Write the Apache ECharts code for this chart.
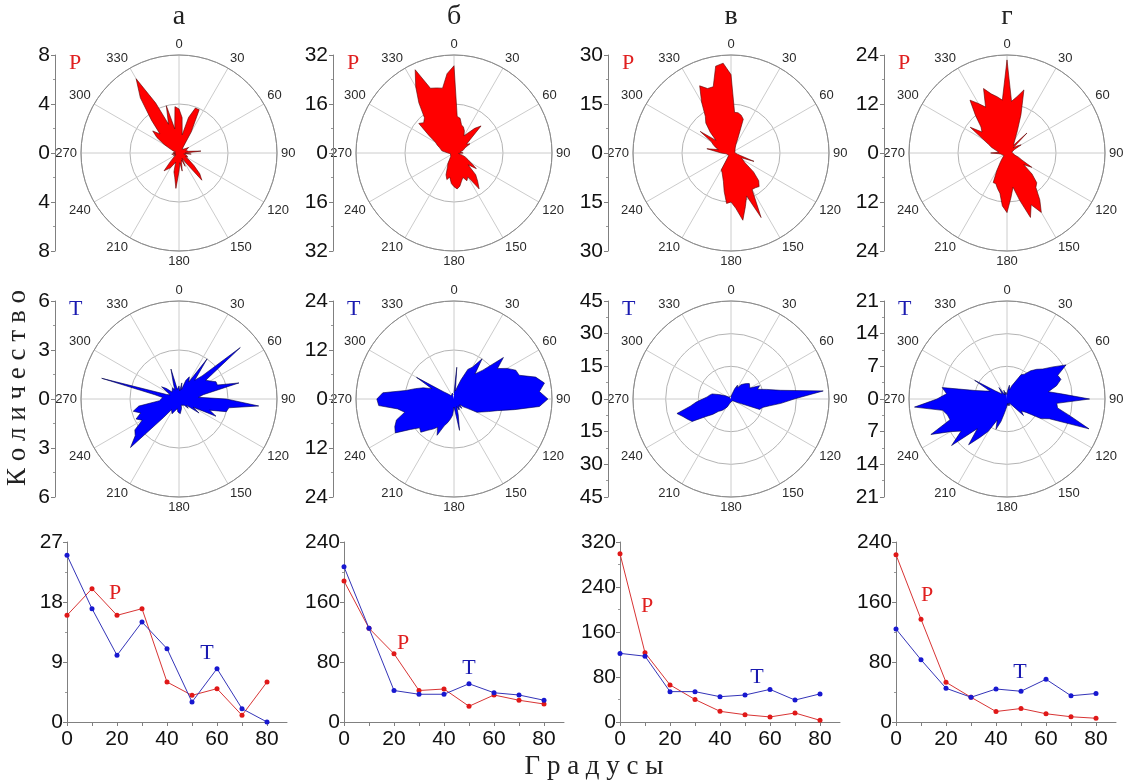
<!DOCTYPE html>
<html><head><meta charset="utf-8">
<script src="https://cdn.jsdelivr.net/npm/echarts@6/dist/echarts.min.js"></script>
<style>html,body{margin:0;padding:0;background:#fff}#c{width:1123px;height:782px}</style>
</head><body><div id="c"></div>
<script>
// ---------------- DATA ----------------
const colTitles = ['а', 'б', 'в', 'г'];
const angles = [0,5,10,15,20,25,30,35,40,45,50,55,60,65,70,75,80,85,
  90,95,100,105,110,115,120,125,130,135,140,145,150,155,160,165,170,175,
  180,185,190,195,200,205,210,215,220,225,230,235,240,245,250,255,260,265,
  270,275,280,285,290,295,300,305,310,315,320,325,330,335,340,345,350,355];

// Р (top row) rose values per column
const roseP_a = [3.6,2.9,1.5,3.0,3.9,3.9,2.0,0.6,0.4,0.5,0.4,0.6,0.9,1.0,0.6,0.5,0.8,1.8,
  0.5,1.0,0.4,0.6,0.5,0.8,0.6,1.0,1.6,2.4,2.9,1.0,0.5,1.2,0.6,0.8,1.5,0.8,
  1.5,2.9,2.0,1.6,0.8,1.0,1.4,1.5,1.9,1.0,0.6,0.4,0.3,0.5,0.3,0.4,0.6,0.3,
  0.5,0.4,0.6,0.3,0.5,0.8,1.4,2.2,2.8,2.2,3.5,5.5,7.0,4.5,2.5,4.0,2.0,3.8];
const roseP_b = [28.5,12,11.5,9.5,9,8,6.5,8,10.5,12.5,7,5,6,4,4.5,3,2,1.5,
  3,1.5,2,3,4,5,6.5,8.9,6,10,12,14.3,9,10,8.5,9.5,11,11.8,
  11,10,8,9,7.6,5,4,2.5,2,1.5,1,1,1,1,0.8,1,1.2,1.5,
  2,2.5,4,4.5,5,6,7,10,15,14,15,20,25,30,22.5,22,21.5,26];
const roseP_v = [24,12.5,12.5,12,11,5,3,2.5,2,1.5,2,1.5,1.5,2,1.5,1,1,1.2,
  1,1.5,2,3,7.5,3.5,4,5.3,9,12,13.4,13,12.9,21.8,14,17,20.9,17,
  15,15.5,12,9,7.5,6.5,6,2,1.5,1,1,1,0.8,0.8,1,1,1.5,2,
  3,3.5,7.5,4,5,6,7,11.5,6,9,12,13.7,18,22.7,21,21,27,27.6];
const roseP_g = [22.8,12.7,14,16,10,6,4,3,2.5,6.9,2,3,4,2,1.5,1.5,1.2,1,
  1,1.5,1.5,2,3,4,7,5,8,10.3,11,14,16.8,14,16.8,12,8.5,11,
  14.6,13,10,9,8,8,5,3,2,1.5,1,1,1,1,1,1.2,1.5,2,
  4,2,2.5,3,4,5,5,11,8,9,12,15.8,14,12.4,16.8,15,14,13];

// Т (middle row) rose values per column
const roseT_a = [0.8,0.5,1.0,0.6,1.2,1.5,1.2,3.0,1.5,2.0,4.9,2.0,2.2,2.5,2.5,3.8,1.5,1.2,
  2.9,4.9,3.1,3.0,2.0,2.5,1.0,1.5,0.6,0.8,0.5,0.6,0.4,0.5,0.4,0.6,0.5,0.9,
  1.0,0.8,0.6,0.5,0.8,1.0,1.0,0.8,1.5,4.2,3.5,3.3,2.6,2.9,2.5,2.9,2.5,1.2,
  1.2,1.0,1.5,4.9,0.8,0.6,0.8,1.3,1.0,0.6,0.5,0.6,0.8,0.6,1.0,1.9,0.6,0.5];
const roseT_b = [1.5,7.8,2,3,5,8,9,12,8,10,15.8,13,15,16.7,17,20.7,22.5,21,
  23,21,15,11,9,7.5,6.5,4,3,2,3,2,2.5,3,2,4,7.8,3,
  2,4,5,6,7,9.8,8,9,10,11.5,11,13,16.6,16,15,12.5,14,18.5,
  18.9,17.5,12,9.8,8,6,10.6,3,2,1.5,1,0.8,1,0.8,1,1.5,1,1.5];
const roseT_v = [1,1.5,2,3,5,7,6,8,9,10,11,11.3,10,14.5,13,17,23,42.5,
  29,23,18,15,14,5,3,2,1.5,1.5,1,1,1,1.5,1,1,1,1.5,
  1,1,1.5,2,3,4,5,6,7,8,11,14,20.6,22,23.5,25.7,19,16,
  13,11,10,9,6,4,3,2,2,1.5,1,1,1,1,1.5,1,1.5,1];
const roseT_g = [1,2,3,2,3,4,6,6.5,7.9,9,10,12,14.6,12,12.3,11,9,12,
  17.7,10.7,11,14,18.7,10,8.4,5,4,5,2,1.5,1,1,1.5,1,1.5,1,
  1.5,2,3,5,6.9,5,8,10,12.8,9,15.5,12,14,18,13,13.2,14,19.9,
  15,13,14.1,7,5,4,8,3,2,1.5,1.5,3,1,1,2,1,1.5,1];

const roseMaxP = [8, 32, 30, 24];
const roseStepP = [4, 16, 15, 12];
const roseMaxT = [6, 24, 45, 21];
const roseStepT = [3, 12, 15, 7];

// bottom row: counts vs degrees
const lineDeg = [0, 10, 20, 30, 40, 50, 60, 70, 80];
const lineP_a = [16, 20, 16, 17, 6, 4, 5, 1, 6];
const lineT_a = [25, 17, 10, 15, 11, 3, 8, 2, 0];
const lineP_b = [188, 125, 91, 42, 44, 21, 36, 29, 24];
const lineT_b = [207, 125, 42, 37, 37, 51, 39, 36, 29];
const lineP_v = [299, 123, 66, 40, 19, 13, 9, 16, 3];
const lineT_v = [122, 117, 54, 54, 45, 48, 58, 39, 50];
const lineP_g = [223, 137, 53, 33, 14, 18, 11, 7, 5];
const lineT_g = [124, 83, 45, 33, 44, 41, 57, 35, 38];
const lineMax = [27, 240, 320, 240];
const lineStep = [9, 80, 80, 80];
const xTickLabels = [0, 20, 40, 60, 80];

// ---------------- LAYOUT ----------------
const colCx = [179, 454, 731, 1007];
const rowCy = [153, 399];
const R = 98;
const scaleAxisX = [55, 333, 608, 884];
const lineLeft = [67, 344, 620, 896];
const SANS = 'Liberation Sans';
const SERIF = 'Liberation Serif';

const chart = echarts.init(document.getElementById('c'), null, {renderer: 'canvas'});
const polar = [], angleAxis = [], radiusAxis = [], grid = [], xAxis = [], yAxis = [], series = [], graphic = [];

const roseSets = [
  {vals: [roseP_a, roseP_b, roseP_v, roseP_g], max: roseMaxP, step: roseStepP, fill: '#ff0000', edge: '#5a0000', tag: 'Р', tagColor: '#e02020'},
  {vals: [roseT_a, roseT_b, roseT_v, roseT_g], max: roseMaxT, step: roseStepT, fill: '#0000ff', edge: '#00004a', tag: 'Т', tagColor: '#1a1ab0'}
];

roseSets.forEach((set, row) => {
  for (let c = 0; c < 4; c++) {
    const pi = polar.length;
    polar.push({center: [colCx[c], rowCy[row]], radius: R});
    angleAxis.push({
      polarIndex: pi, type: 'value', min: 0, max: 360, interval: 30, startAngle: 90, clockwise: true,
      axisLine: {lineStyle: {color: '#8a8a8a', width: 1}},
      axisTick: {show: false},
      axisLabel: {margin: 4, fontSize: 13, color: '#2a2a2a', fontFamily: SANS, formatter: v => v === 360 ? '' : String(v)},
      splitLine: {show: true, lineStyle: {color: '#cccccc', width: 1, type: 'solid'}},
      minorTick: {show: false},
      minorSplitLine: {show: false}
    });
    radiusAxis.push({
      polarIndex: pi, type: 'value', min: 0, max: set.max[c], interval: set.step[c],
      axisLine: {show: false}, axisTick: {show: false}, axisLabel: {show: false},
      splitLine: {show: true, lineStyle: {color: '#b4b4b4', width: 1, type: 'solid'}}
    });
    const data = angles.map((a, i) => [set.vals[c][i], a]);
    data.push([set.vals[c][0], 360]);
    series.push({
      type: 'line', coordinateSystem: 'polar', polarIndex: pi, data: data, z: 3,
      symbol: 'none', smooth: false, silent: true,
      lineStyle: {color: set.edge, width: 0.6},
      areaStyle: {color: set.fill, opacity: 1}
    });
    // external radial scale axis
    const gi = grid.length;
    grid.push({left: scaleAxisX[c], top: rowCy[row] - R, width: 10, height: 2 * R});
    xAxis.push({gridIndex: gi, type: 'value', show: false});
    yAxis.push({
      gridIndex: gi, type: 'value', min: -set.max[c], max: set.max[c], interval: set.step[c],
      axisLine: {show: true, lineStyle: {color: '#808080'}},
      axisTick: {show: true, length: 4, lineStyle: {color: '#808080'}},
      minorTick: {show: true, splitNumber: 2, length: 2, lineStyle: {color: '#999'}},
      splitLine: {show: false},
      axisLabel: {fontSize: 21, color: '#111', fontFamily: SANS, margin: 5, formatter: v => String(Math.abs(v))}
    });
    graphic.push({type: 'text', x: scaleAxisX[c] + 14, y: rowCy[row] - R + 8,
      style: {text: set.tag, fill: set.tagColor, font: '22px "' + SERIF + '"', textAlign: 'left', textVerticalAlign: 'middle'}});
  }
});

const linePs = [lineP_a, lineP_b, lineP_v, lineP_g];
const lineTs = [lineT_a, lineT_b, lineT_v, lineT_g];
const lineTagPos = [[[115, 593], [207, 653]], [[403, 643], [469, 668]], [[647, 606], [757, 677]], [[927, 595], [1020, 672]]];
for (let c = 0; c < 4; c++) {
  const gi = grid.length;
  grid.push({left: lineLeft[c], top: 542, width: 220, height: 180});
  xAxis.push({
    gridIndex: gi, type: 'value', min: 0, max: 88, interval: 20,
    axisLine: {lineStyle: {color: '#808080'}},
    axisTick: {show: true, length: 4, lineStyle: {color: '#808080'}, customValues: [0, 10, 20, 30, 40, 50, 60, 70, 80]},
    minorTick: {show: false},
    splitLine: {show: false},
    axisLabel: {fontSize: 21, color: '#111', fontFamily: SANS, margin: 7, customValues: xTickLabels,
      formatter: v => (v % 20 === 0 ? String(v) : '')}
  });
  yAxis.push({
    gridIndex: gi, type: 'value', min: 0, max: lineMax[c], interval: lineStep[c],
    axisLine: {show: true, lineStyle: {color: '#808080'}},
    axisTick: {show: true, length: 4, lineStyle: {color: '#808080'}},
    minorTick: {show: true, splitNumber: 2, length: 2, lineStyle: {color: '#999'}},
    splitLine: {show: false},
    axisLabel: {fontSize: 21, color: '#111', fontFamily: SANS, margin: 4}
  });
  series.push({
    type: 'line', xAxisIndex: gi, yAxisIndex: gi, data: lineDeg.map((d, i) => [d, linePs[c][i]]),
    symbol: 'circle', symbolSize: 5, lineStyle: {color: '#d83434', width: 1}, itemStyle: {color: '#e01818'}, z: 3
  });
  series.push({
    type: 'line', xAxisIndex: gi, yAxisIndex: gi, data: lineDeg.map((d, i) => [d, lineTs[c][i]]),
    symbol: 'circle', symbolSize: 5, lineStyle: {color: '#3434b8', width: 1}, itemStyle: {color: '#1818d0'}, z: 4
  });
  graphic.push({type: 'text', x: lineTagPos[c][0][0], y: lineTagPos[c][0][1],
    style: {text: 'Р', fill: '#e02020', font: '22px "' + SERIF + '"', textAlign: 'center', textVerticalAlign: 'middle'}});
  graphic.push({type: 'text', x: lineTagPos[c][1][0], y: lineTagPos[c][1][1],
    style: {text: 'Т', fill: '#1a1ab0', font: '22px "' + SERIF + '"', textAlign: 'center', textVerticalAlign: 'middle'}});
  graphic.push({type: 'text', x: colCx[c], y: 17,
    style: {text: colTitles[c], fill: '#222', font: '28px "' + SERIF + '"', textAlign: 'center', textVerticalAlign: 'middle'}});
}

graphic.push({type: 'text', x: 18, y: 388, rotation: Math.PI / 2,
  style: {text: 'К о л и ч е с т в о', fill: '#222', font: '27px "' + SERIF + '"', textAlign: 'center', textVerticalAlign: 'middle'}});
graphic.push({type: 'text', x: 594, y: 767,
  style: {text: 'Г р а д у с ы', fill: '#222', font: '27px "' + SERIF + '"', textAlign: 'center', textVerticalAlign: 'middle'}});

chart.setOption({
  animation: false,
  backgroundColor: '#ffffff',
  polar, angleAxis, radiusAxis, grid, xAxis, yAxis, series, graphic
});
</script></body></html>
